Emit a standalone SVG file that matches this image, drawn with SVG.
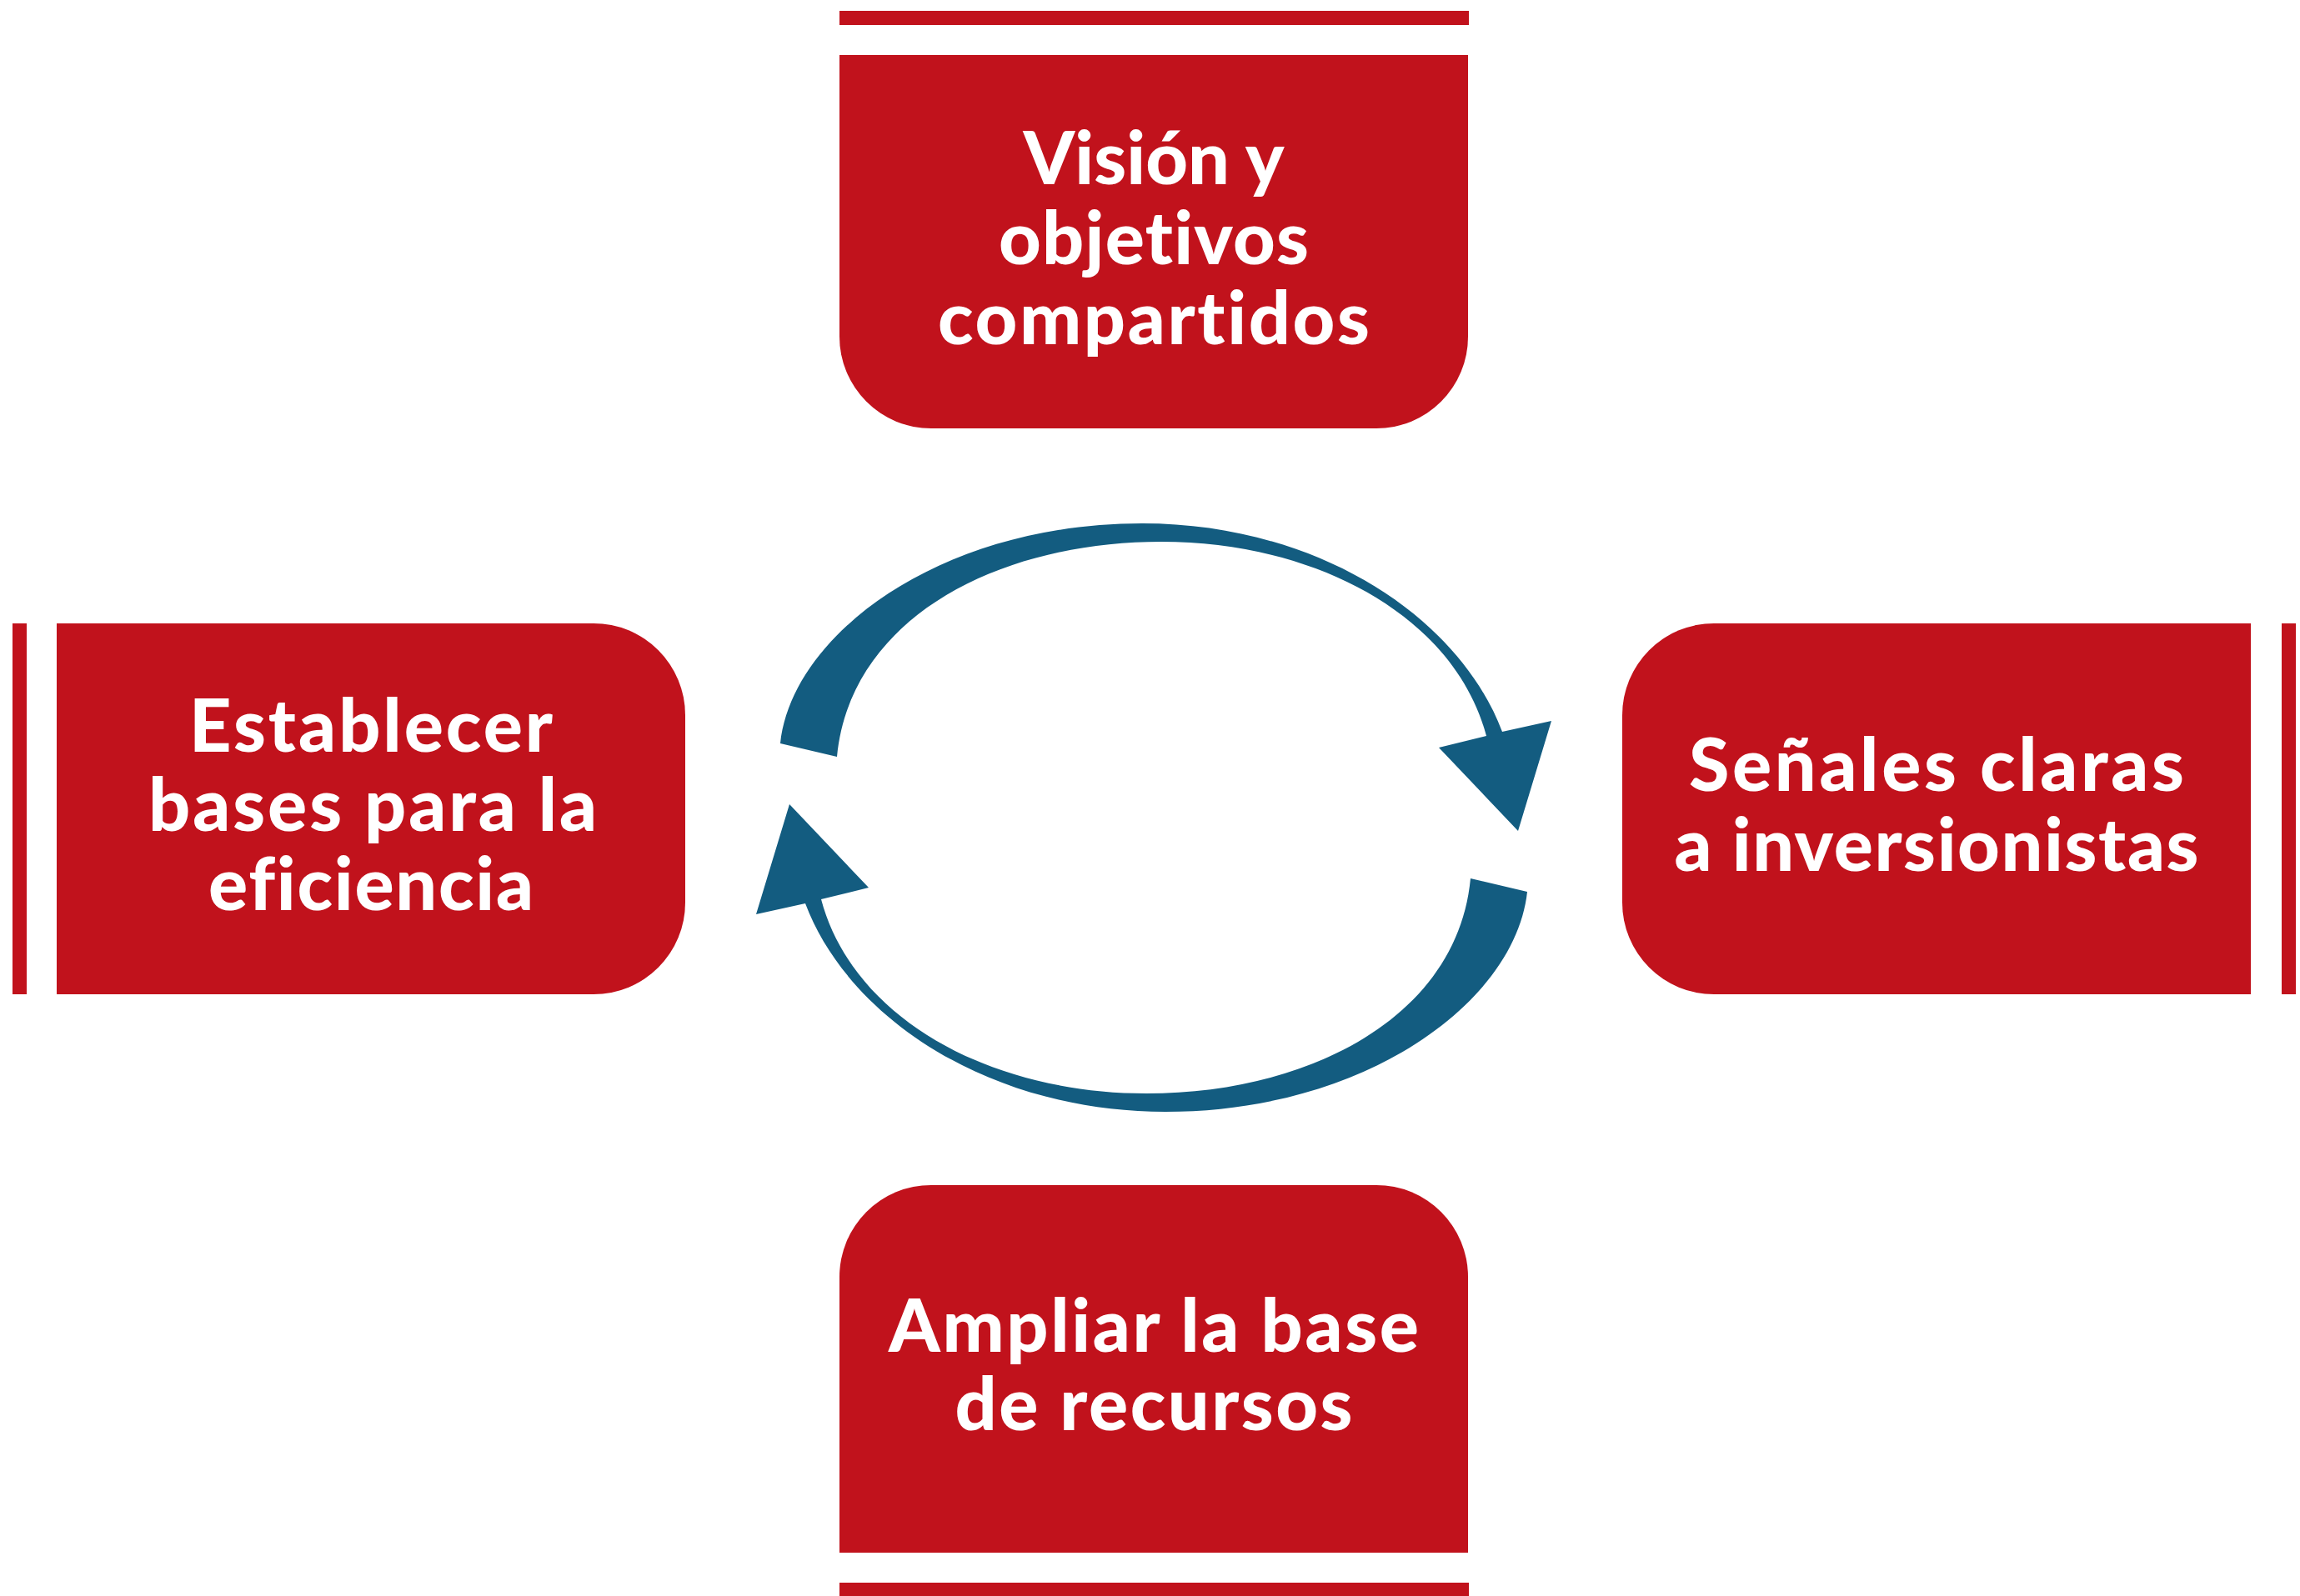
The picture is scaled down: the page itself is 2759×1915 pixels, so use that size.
<svg xmlns="http://www.w3.org/2000/svg" width="2759" height="1915" viewBox="0 0 2759 1915">
<style>
.box{fill:#C1121C}
.bar{fill:#C1121C}
.lbl{font-family:Lato,"Liberation Sans",sans-serif;font-weight:900;font-size:88px;fill:#FFFFFF;text-anchor:middle;font-variant-ligatures:none}
.arr{fill:#135C80}
</style>
<defs>
<path id="arc" d="M 936,892 C 950,760 1130,628 1370,628 C 1580,628 1750,740 1802,878 L 1861,865 L 1821,997 L 1726,897 L 1783,883 C 1745,740 1580,650 1393,650 C 1200,650 1020,740 1004,908 Z"/>
</defs>
<rect width="2759" height="1915" fill="#FFFFFF"/>
<g id="decor">
<rect class="bar" x="1007" y="13" width="755" height="17"/>
<rect class="bar" x="15" y="748" width="17" height="445"/>
<rect class="bar" x="2737" y="748" width="17" height="445"/>
<rect class="bar" x="1007" y="1899" width="755" height="16"/>
</g>
<g id="node-top">
<path class="box" d="M 1007,66 H 1761 V 404 A 110 110 0 0 1 1651,514 H 1117 A 110 110 0 0 1 1007,404 Z"/>
<text class="lbl" x="1384" y="221" textLength="313" lengthAdjust="spacing">Visión y</text>
<text class="lbl" x="1384" y="317" textLength="372" lengthAdjust="spacing">objetivos</text>
<text class="lbl" x="1384" y="413" textLength="518" lengthAdjust="spacing">compartidos</text>
</g>
<g id="node-left">
<path class="box" d="M 68,748 H 712 A 110 110 0 0 1 822,858 V 1083 A 110 110 0 0 1 712,1193 H 68 Z"/>
<text class="lbl" x="445" y="902" textLength="436" lengthAdjust="spacing">Establecer</text>
<text class="lbl" x="447" y="997" textLength="538" lengthAdjust="spacing">bases para la</text>
<text class="lbl" x="445" y="1092" textLength="390" lengthAdjust="spacing">eficiencia</text>
</g>
<g id="node-right">
<path class="box" d="M 2700,748 H 2056 A 110 110 0 0 0 1946,858 V 1083 A 110 110 0 0 0 2056,1193 H 2700 Z"/>
<text class="lbl" x="2323" y="949" textLength="594" lengthAdjust="spacing">Señales claras</text>
<text class="lbl" x="2323" y="1045" textLength="629" lengthAdjust="spacing">a inversionistas</text>
</g>
<g id="node-bottom">
<path class="box" d="M 1007,1863 H 1761 V 1532 A 110 110 0 0 0 1651,1422 H 1117 A 110 110 0 0 0 1007,1532 Z"/>
<text class="lbl" x="1384" y="1622" textLength="636" lengthAdjust="spacing">Ampliar la base</text>
<text class="lbl" x="1384" y="1716" textLength="477" lengthAdjust="spacing">de recursos</text>
</g>
<g id="connectors">
<use href="#arc" class="arr"/>
<use href="#arc" class="arr" transform="rotate(180 1384 981)"/>
</g>
</svg>
